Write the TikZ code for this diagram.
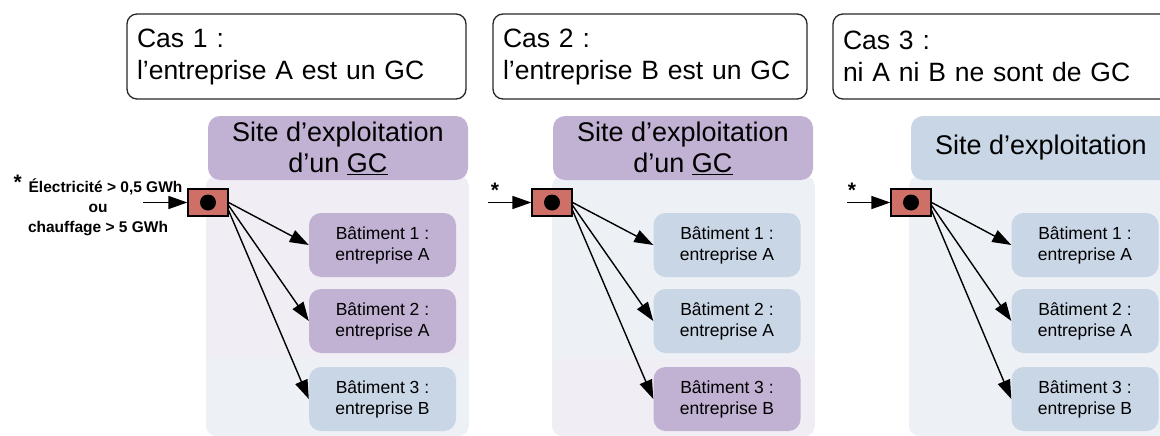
\documentclass[tikz,border=0pt]{standalone}
\usepackage{fontspec}
\setmainfont{Liberation Sans}
\usetikzlibrary{arrows.meta}

\definecolor{hdrpurple}{HTML}{C1B1D3}
\definecolor{hdrblue}{HTML}{C9D6E6}
\definecolor{panelpurple}{HTML}{F0EEF4}
\definecolor{panelblue}{HTML}{EDF1F6}
\definecolor{meterred}{HTML}{CF7068}

\tikzset{
  casebox/.style={draw=black!85, line width=1.3pt, rounded corners=10pt,
    minimum width=#1, minimum height=85pt, text width=#1-20pt, inner sep=10pt,
    align=left, font=\fontsize{26.5}{32}\selectfont},
  sitebox/.style={rounded corners=12pt, minimum width=260pt, minimum height=64pt,
    inner sep=0pt, align=center, font=\fontsize{27}{31}\selectfont},
  bldg/.style={rounded corners=12pt, minimum width=147pt, minimum height=64pt,
    inner sep=0pt, align=center, font=\fontsize{17.5}{21}\selectfont},
  meter/.style={draw=black, line width=1.2pt, fill=meterred,
    minimum width=40pt, minimum height=27pt, inner sep=0pt},
  dot/.style={circle, fill=black, minimum size=16pt, inner sep=0pt},
  feed/.style={line width=1.4pt, -{Triangle[length=19pt,width=13pt]}},
  star/.style={font=\bfseries\fontsize{21}{21}\selectfont, inner sep=0pt}
}

\begin{document}
\begin{tikzpicture}[x=1pt, y=-1pt]
\useasboundingbox (0,0) rectangle (1160,436);
\clip (0,0) rectangle (1160,436);

% ---- background panels of the three sites
\begin{scope}
  \clip[rounded corners=10pt] (206,176) rectangle (469,436);
  \fill[panelpurple] (206,176) rectangle (469,358);
  \fill[panelblue] (206,358) rectangle (469,436);
\end{scope}
\begin{scope}
  \clip[rounded corners=10pt] (552,176) rectangle (815,436);
  \fill[panelblue] (552,176) rectangle (815,358);
  \fill[panelpurple] (552,358) rectangle (815,436);
\end{scope}
\fill[panelblue, rounded corners=10pt] (909,176) rectangle (1175,436);

% ---- case titles
\node[casebox=339pt] (cas1) at (296.5,56.5) {Cas 1 :\\l’entreprise A est un GC};
\node[casebox=314pt] (cas2) at (650,56.5) {Cas 2 :\\l’entreprise B est un GC};
\node[casebox=340pt] (cas3) at (1003,56.5) {Cas 3 :\\ni A ni B ne sont de GC};

% ---- site headers
\node[sitebox, fill=hdrpurple] (site1) at (338,148) {Site d’exploitation\\d’un \underline{GC}};
\node[sitebox, fill=hdrpurple] (site2) at (683,148) {Site d’exploitation\\d’un \underline{GC}};
\node[sitebox, fill=hdrblue] (site3) at (1041,148) {Site d’exploitation};

% ---- buildings
\node[bldg, fill=hdrpurple] (b11) at (382.5,245) {Bâtiment 1 :\\entreprise A};
\node[bldg, fill=hdrpurple] (b12) at (382.5,321) {Bâtiment 2 :\\entreprise A};
\node[bldg, fill=hdrblue]   (b13) at (382.5,399) {Bâtiment 3 :\\entreprise B};

\node[bldg, fill=hdrblue]   (b21) at (727,245) {Bâtiment 1 :\\entreprise A};
\node[bldg, fill=hdrblue]   (b22) at (727,321) {Bâtiment 2 :\\entreprise A};
\node[bldg, fill=hdrpurple] (b23) at (727,399) {Bâtiment 3 :\\entreprise B};

\node[bldg, fill=hdrblue] (b31) at (1085,245) {Bâtiment 1 :\\entreprise A};
\node[bldg, fill=hdrblue] (b32) at (1085,321) {Bâtiment 2 :\\entreprise A};
\node[bldg, fill=hdrblue] (b33) at (1085,399) {Bâtiment 3 :\\entreprise B};

% ---- meters
\node[meter] (m1) at (208,202.5) {};
\node[meter] (m2) at (552,202.5) {};
\node[meter] (m3) at (911,202.5) {};
\node[dot] (d1) at (m1.center) {};
\node[dot] (d2) at (m2.center) {};
\node[dot] (d3) at (m3.center) {};

% ---- supply inputs
\coordinate (in1) at (143,202.5);
\coordinate (in2) at (488,202.5);
\coordinate (in3) at (847,202.5);
\draw[feed] (in1) -- (m1.west);
\draw[feed] (in2) -- (m2.west);
\draw[feed] (in3) -- (m3.west);

\node[align=center, inner sep=0pt, font=\bfseries\fontsize{15.5}{20}\selectfont] (seuil) at (98,205)
  {\raisebox{3pt}{\fontsize{21}{21}\selectfont *}\, Électricité > 0,5 GWh\\ou\\chauffage > 5 GWh};
\node[star] (s2) at (495,190) {*};
\node[star] (s3) at (852,190) {*};

% ---- distribution to buildings
\foreach \m/\a/\b/\c in {m1/b11/b12/b13, m2/b21/b22/b23, m3/b31/b32/b33}{
  \draw[feed] (\m.east) -- (\a.west);
  \draw[feed] ([yshift=-3pt]\m.east) -- (\b.west);
  \draw[feed] ([yshift=-8pt]\m.east) -- (\c.west);
}
\end{tikzpicture}
\end{document}
